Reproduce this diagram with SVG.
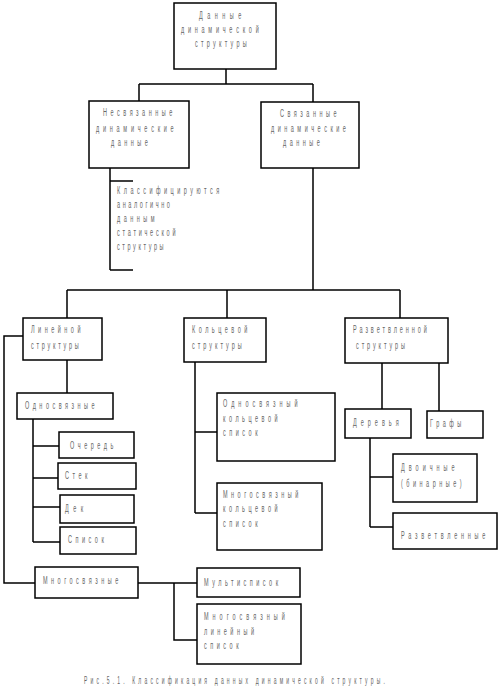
<svg xmlns="http://www.w3.org/2000/svg" width="499" height="700" viewBox="0 0 499 700">
<style>
rect{fill:#fff;stroke:#000;stroke-width:1.5}
path{fill:none;stroke:#000;stroke-width:1.5}
text{font-family:"Liberation Sans",Arial,sans-serif;font-size:11px;fill:#666;letter-spacing:7px}
.cap{font-size:10px;letter-spacing:6.35px}
</style>
<rect x="0" y="0" width="499" height="700" style="stroke:none"/>
<g id="connectors">
<path d="M226,69V84M139,84H313M139,84V101M313,84V102"/>
<path d="M110,168V270M110,181H133M110,270H133"/>
<path d="M313,168V290M67,290H400M67,290V318M227,290V318M400,290V318"/>
<path d="M23,336H4V583H35"/>
<path d="M67,360V393"/>
<path d="M33,419V542M33,446H59M33,478H58M33,507H60M33,542H60"/>
<path d="M195,362V513M195,432H217M195,513H217"/>
<path d="M382,363V409M439,363V411"/>
<path d="M370,438V527M370,477H393M370,527H393"/>
<path d="M138,583H197M174,583V640H197"/>
</g>
<g id="root"><rect x="174" y="3" width="102" height="66"/>
<text transform="translate(199,19) scale(.5,1)" style="letter-spacing:9px">Данные</text>
<text transform="translate(181,33) scale(.5,1)" style="letter-spacing:7.5px">динамической</text>
<text transform="translate(195,47) scale(.5,1)" style="letter-spacing:6.5px">структуры</text></g>
<g id="nesv"><rect x="89" y="101" width="100" height="67"/>
<text transform="translate(103,116) scale(.5,1)">Несвязанные</text>
<text transform="translate(96,132) scale(.5,1)" style="letter-spacing:7.5px">динамические</text>
<text transform="translate(111,146) scale(.5,1)">данные</text></g>
<g id="sv"><rect x="261" y="102" width="98" height="66"/>
<text transform="translate(280,117) scale(.5,1)">Связанные</text>
<text transform="translate(271,132) scale(.5,1)">динамические</text>
<text transform="translate(283,146) scale(.5,1)">данные</text></g>
<g id="klass">
<text transform="translate(117,194) scale(.5,1)">Классифицируются</text>
<text transform="translate(117,208) scale(.5,1)" style="letter-spacing:5.2px">аналогично</text>
<text transform="translate(117,222) scale(.5,1)">данным</text>
<text transform="translate(117,236) scale(.5,1)" style="letter-spacing:5.5px">статической</text>
<text transform="translate(117,250) scale(.5,1)" style="letter-spacing:5.2px">структуры</text></g>
<g id="lin"><rect x="23" y="318" width="79" height="42"/>
<text transform="translate(31,333) scale(.5,1)">Линейной</text>
<text transform="translate(31,349) scale(.5,1)" style="letter-spacing:5.5px">структуры</text></g>
<g id="kol"><rect x="184" y="318" width="82" height="44"/>
<text transform="translate(192,333) scale(.5,1)">Кольцевой</text>
<text transform="translate(192,349) scale(.5,1)" style="letter-spacing:6px">структуры</text></g>
<g id="razv"><rect x="345" y="318" width="103" height="45"/>
<text transform="translate(353,333) scale(.5,1)" style="letter-spacing:5.9px">Разветвленной</text>
<text transform="translate(356,349) scale(.5,1)" style="letter-spacing:5.8px">структуры</text></g>
<g id="odno"><rect x="17" y="393" width="96" height="26"/>
<text transform="translate(25,409) scale(.5,1)">Односвязные</text></g>
<g id="och"><rect x="59" y="432" width="75" height="26"/>
<text transform="translate(70,449) scale(.5,1)">Очередь</text></g>
<g id="stek"><rect x="58" y="463" width="78" height="26"/>
<text transform="translate(65,479) scale(.5,1)">Стек</text></g>
<g id="dek"><rect x="60" y="495" width="74" height="28"/>
<text transform="translate(65,512) scale(.5,1)" style="letter-spacing:9px">Дек</text></g>
<g id="spis"><rect x="60" y="527" width="76" height="27"/>
<text transform="translate(68,543) scale(.5,1)">Список</text></g>
<g id="ok1"><rect x="217" y="393" width="118" height="68"/>
<text transform="translate(223,407) scale(.5,1)" style="letter-spacing:8px">Односвязный</text>
<text transform="translate(223,422) scale(.5,1)">кольцевой</text>
<text transform="translate(223,436) scale(.5,1)">список</text></g>
<g id="ok2"><rect x="217" y="483" width="105" height="67"/>
<text transform="translate(223,498) scale(.5,1)">Многосвязный</text>
<text transform="translate(223,512) scale(.5,1)">кольцевой</text>
<text transform="translate(223,527) scale(.5,1)">список</text></g>
<g id="der"><rect x="345" y="409" width="66" height="29"/>
<text transform="translate(353,426) scale(.5,1)" style="letter-spacing:8px">Деревья</text></g>
<g id="graf"><rect x="427" y="411" width="56" height="27"/>
<text transform="translate(430,427) scale(.5,1)">Графы</text></g>
<g id="dv"><rect x="393" y="454" width="84" height="48"/>
<text transform="translate(401,471) scale(.5,1)" style="letter-spacing:8px">Двоичные</text>
<text transform="translate(401,487) scale(.5,1)">(бинарные)</text></g>
<g id="razvl"><rect x="393" y="513" width="104" height="36"/>
<text transform="translate(401,539) scale(.5,1)" style="letter-spacing:7.5px">Разветвленные</text></g>
<g id="mnog"><rect x="35" y="567" width="103" height="31"/>
<text transform="translate(43,584) scale(.5,1)">Многосвязные</text></g>
<g id="mult"><rect x="197" y="568" width="103" height="29"/>
<text transform="translate(204,586) scale(.5,1)">Мультисписок</text></g>
<g id="mlin"><rect x="197" y="604" width="104" height="60"/>
<text transform="translate(204,620) scale(.5,1)" style="letter-spacing:8px">Многосвязный</text>
<text transform="translate(204,635) scale(.5,1)">линейный</text>
<text transform="translate(204,649) scale(.5,1)">список</text></g>
<text class="cap" transform="translate(84,684) scale(.5,1)">Рис.5.1. Классификация данных динамической структуры.</text>
</svg>
